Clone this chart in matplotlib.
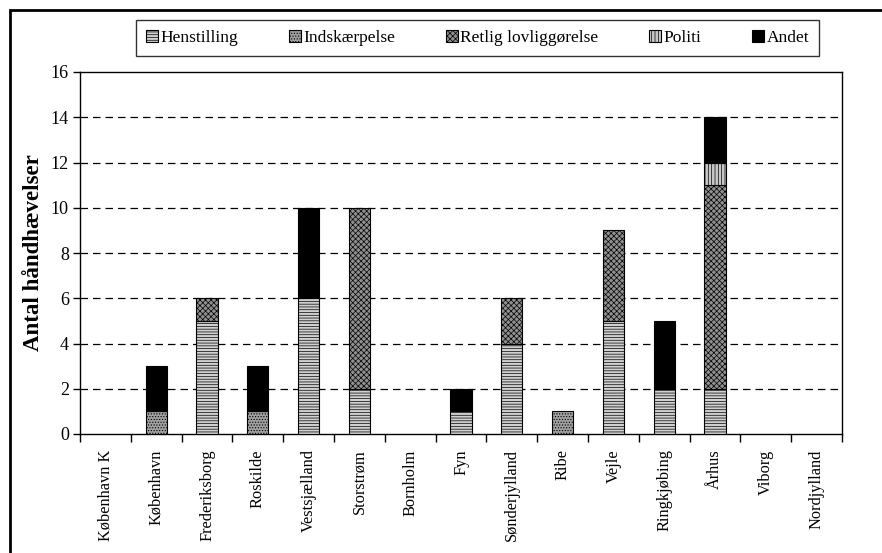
import matplotlib
matplotlib.use("Agg")
import matplotlib.pyplot as plt
from matplotlib.patches import Rectangle
import numpy as np

categories = ["København K", "København", "Frederiksborg", "Roskilde", "Vestsjælland",
              "Storstrøm", "Bornholm", "Fyn", "Sønderjylland", "Ribe", "Vejle",
              "Ringkjøbing", "Århus", "Viborg", "Nordjylland"]
henstilling = [0, 0, 5, 0, 6, 2, 0, 1, 4, 0, 5, 2, 2, 0, 0]
indskaerpelse = [0, 1, 0, 1, 0, 0, 0, 0, 0, 1, 0, 0, 0, 0, 0]
retlig = [0, 0, 1, 0, 0, 8, 0, 0, 2, 0, 4, 0, 9, 0, 0]
politi = [0, 0, 0, 0, 0, 0, 0, 0, 0, 0, 0, 0, 1, 0, 0]
andet = [0, 2, 0, 2, 4, 0, 0, 1, 0, 0, 0, 3, 2, 0, 0]
series_names = ["Henstilling", "Indskærpelse", "Retlig lovliggørelse", "Politi", "Andet"]
yticks = [0, 2, 4, 6, 8, 10, 12, 14, 16]

plt.rcParams['font.family'] = ['Liberation Serif', 'DejaVu Serif']
plt.rcParams['hatch.linewidth'] = 0.5

fig = plt.figure(figsize=(8.82, 5.53), dpi=100)
W, H = 882, 553
ax = fig.add_axes([80 / W, 1 - 434 / H, (842 - 80) / W, (434 - 72) / H])

styles = [
    dict(facecolor="#d0d0d0", hatch="------"),
    dict(facecolor="#a0a0a0", hatch="......"),
    dict(facecolor="#909090", hatch="xxxxxx"),
    dict(facecolor="#c8c8c8", hatch="|||||"),
    dict(facecolor="black", hatch=None),
]
x = np.arange(len(categories))
bottom = np.zeros(len(categories))
handles = []
for name, vals, st in zip(series_names, [henstilling, indskaerpelse, retlig, politi, andet], styles):
    v = np.array(vals, dtype=float)
    m = v > 0
    b = ax.bar(x[m], v[m], width=0.42, bottom=bottom[m], edgecolor="black", linewidth=0.8,
               label=name, zorder=3, **st)
    handles.append(b)
    bottom += v

ax.set_xlim(-0.5, len(categories) - 0.5)
ax.set_ylim(0, 16)
ax.set_yticks(yticks)
ax.set_yticklabels([str(t) for t in yticks], fontsize=13)
for t in yticks[1:-1]:
    ax.axhline(t, color="black", linestyle=(0, (6, 4)), linewidth=0.9, zorder=1)

ax.set_xticks(x)
ax.set_xticklabels(categories, rotation=90, fontsize=11.8)
ax.tick_params(axis='x', which='major', length=0, pad=11)
ax.set_xticks(np.arange(len(categories) + 1) - 0.5, minor=True)
ax.tick_params(axis='x', which='minor', length=6, direction='out', width=1)
ax.tick_params(axis='y', length=5, direction='out', width=1, pad=3)
for s in ax.spines.values():
    s.set_linewidth(1)
ax.set_ylabel("Antal håndhævelser", fontsize=16.5, fontweight='bold', labelpad=5)

leg = fig.legend(handles=handles, labels=series_names, ncol=5, loc='center',
                 bbox_to_anchor=((143 + 812) / 2 / W, 1 - 38 / H), fontsize=12.5,
                 frameon=True, fancybox=False, edgecolor='black', handlelength=0.7,
                 handleheight=0.7, handletextpad=0.15, columnspacing=2.9,
                 borderpad=0.55)
leg.get_frame().set_linewidth(1)

fig.patches.append(Rectangle((10 / W, -0.1), 1.2, 1 - 10 / H + 0.1, transform=fig.transFigure,
                             fill=False, edgecolor='black', linewidth=2))

fig.savefig("out.png", dpi=100)
